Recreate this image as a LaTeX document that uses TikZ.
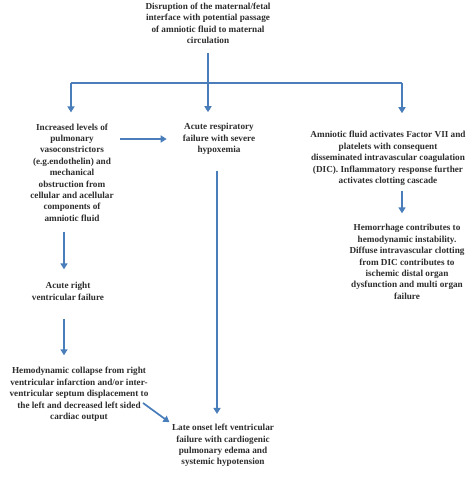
\documentclass[tikz,border=0pt]{standalone}
\usepackage{fontspec}
\setmainfont{Liberation Serif}
\usetikzlibrary{arrows.meta}
\definecolor{arrblue}{HTML}{4A7EBB}
\definecolor{txtgray}{HTML}{2E2E2E}
\begin{document}
\begin{tikzpicture}[x=1pt,y=1pt,
  txt/.style={align=center,inner sep=0pt,text=txtgray,font=\bfseries\fontsize{9.2}{11.4}\selectfont},
  conn/.style={draw=arrblue,line width=1.7pt},
  arr/.style={conn,-{Triangle[length=6pt,width=7pt]}}]
\useasboundingbox (0,0) rectangle (474,-482);
\node[txt] (top) at (208,-23.5) {Disruption of the maternal/fetal\\interface with potential passage\\of amniotic fluid to maternal\\circulation};
\node[txt] (left) at (72,-172.5) {Increased levels of\\pulmonary\\vasoconstrictors\\(e.g.endothelin) and\\mechanical\\obstruction from\\cellular and acellular\\components of\\amniotic fluid};
\node[txt] (mid) at (219,-139) {Acute respiratory\\failure with severe\\hypoxemia};
\node[txt] (right) at (388,-158.5) {Amniotic fluid activates Factor VII and\\platelets with consequent\\disseminated intravascular coagulation\\(DIC). Inflammatory response further\\activates clotting cascade};
\node[txt] (hem) at (407,-262) {Hemorrhage contributes to\\hemodynamic instability.\\Diffuse intravascular clotting\\from DIC contributes to\\ischemic distal organ\\dysfunction and multi organ\\failure};
\node[txt] (aright) at (68,-291.5) {Acute right\\ventricular failure};
\node[txt] (hemo) at (79,-394.5) {Hemodynamic collapse from right\\ventricular infarction and/or inter-\\ventricular septum displacement to\\the left and decreased left sided\\cardiac output};
\node[txt] (late) at (223,-445.5) {Late onset left ventricular\\failure with cardiogenic\\pulmonary edema and\\systemic hypotension};
\coordinate (j) at (208,-83);
\coordinate (jl) at (71,-83);
\coordinate (jr) at (402,-83);
\coordinate (d1) at (143,-403);
\draw[conn,shorten <=9pt] (top.south) -- (j);
\draw[conn] (jl) -- (jr);
\draw[arr,shorten >=11pt] (jl) -- (jl |- left.north);
\draw[arr,shorten >=11pt] (j) -- (j |- mid.north);
\draw[arr,shorten >=18pt] (jr) -- (jr |- right.north);
\draw[arr,shorten <=6pt,shorten >=16pt] (left.east |- mid.west) -- (mid.west);
\draw[arr,shorten <=16pt,shorten >=10pt] ([xshift=-2pt]mid.south) -- ([xshift=-2pt]mid.south |- late.north);
\draw[arr,shorten <=10pt,shorten >=13pt] ([xshift=-8pt]left.south) -- ([xshift=-8pt]left.south |- aright.north);
\draw[arr,shorten <=18pt,shorten >=12pt] ([xshift=-4pt]aright.south) -- ([xshift=-4pt]aright.south |- hemo.north);
\draw[arr,shorten <=5pt,shorten >=11pt] (jr |- right.south) -- (jr |- hem.north);
\draw[arr,shorten >=3pt] (d1) -- (late.north west);
\end{tikzpicture}
\end{document}
